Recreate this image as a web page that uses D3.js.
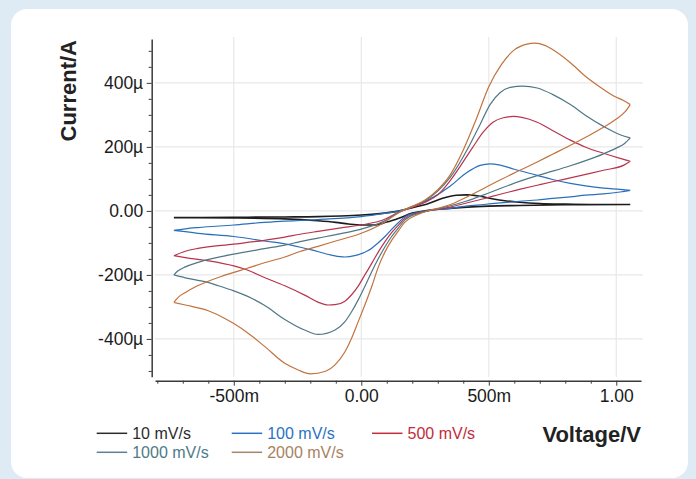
<!DOCTYPE html>
<html>
<head>
<meta charset="utf-8">
<script src="https://cdn.jsdelivr.net/npm/d3@7"></script>
<style>
  html, body { margin: 0; padding: 0; background: #deebf4; }
  svg { display: block; }
  text { font-family: "Liberation Sans", Arial, sans-serif; }
</style>
</head>
<body>
<svg id="chart" width="696" height="479"></svg>
<script>
// ---------------- DATA (voltage in V, current in µA) ----------------
const seriesNames = ["10 mV/s", "100 mV/s", "500 mV/s", "1000 mV/s", "2000 mV/s"];

// 10 mV/s
const v10Fwd = [-0.735, -0.5, -0.3, -0.17, -0.08, 0, 0.09, 0.15, 0.2, 0.256, 0.322, 0.374, 0.41, 0.466, 0.518, 0.57, 0.62, 0.7, 0.8, 0.9, 1.055];
const i10Fwd = [-21, -20, -19, -18, -16, -13, -7, 0, 10, 21, 40, 49, 50, 46, 37, 31, 27, 23, 21, 20, 20];
const v10Rev = [1.055, 0.8, 0.62, 0.5, 0.4, 0.3, 0.25, 0.2, 0.15, 0.1, 0.05, 0, -0.05, -0.1, -0.17, -0.3, -0.5, -0.735];
const i10Rev = [20, 19, 17, 15, 11, 5, 0, -7, -22, -35, -44, -44, -41, -36, -31, -25, -22, -21];

// 100 mV/s
const v100Fwd = [-0.735, -0.69, -0.64, -0.5, -0.38, -0.3, -0.24, -0.17, 0, 0.09, 0.15, 0.2, 0.283, 0.348, 0.413, 0.466, 0.505, 0.545, 0.6, 0.69, 0.75, 0.82, 0.88, 0.95, 1.015, 1.055];
const i100Fwd = [-61, -56, -52, -44, -36, -32, -30, -27, -18, -8, 0, 12, 43, 77, 119, 142, 147, 143, 130, 111, 98, 86, 78, 71, 67, 64];
const v100Rev = [1.055, 1.015, 0.95, 0.88, 0.82, 0.75, 0.69, 0.62, 0.545, 0.48, 0.41, 0.35, 0.28, 0.22, 0.171, 0.145, 0.119, 0.093, 0.06, 0.027, -0.026, -0.065, -0.117, -0.195, -0.3, -0.38, -0.5, -0.64, -0.69, -0.735];
const i100Rev = [64, 59, 53, 49, 44, 39, 34, 30, 25, 20, 15, 8, 3, -5, -18, -37, -58, -80, -104, -124, -140, -144, -138, -122, -103, -94, -80, -70, -65, -61];

// 500 mV/s
const v500Fwd = [-0.735, -0.69, -0.64, -0.5, -0.38, -0.3, -0.24, -0.17, -0.08, 0, 0.09, 0.15, 0.2, 0.25, 0.3, 0.35, 0.435, 0.478, 0.518, 0.557, 0.596, 0.63, 0.69, 0.75, 0.82, 0.88, 0.95, 1.015, 1.055];
const i500Fwd = [-140, -126, -117, -104, -92, -82, -73, -64, -53, -44, -27, -3, 11, 27, 50, 96, 196, 246, 278, 291, 295, 292, 277, 251, 221, 199, 180, 164, 155];
const v500Rev = [1.055, 1.03, 0.95, 0.88, 0.82, 0.75, 0.69, 0.62, 0.545, 0.48, 0.41, 0.35, 0.28, 0.22, 0.171, 0.145, 0.119, 0.093, 0.067, 0.041, 0.014, -0.012, -0.038, -0.064, -0.103, -0.13, -0.17, -0.22, -0.3, -0.38, -0.45, -0.5, -0.6, -0.69, -0.735];
const i500Rev = [155, 143, 127, 114, 103, 91, 80, 67, 52, 38, 24, 12, 3, -7, -23, -45, -68, -96, -128, -164, -200, -235, -262, -282, -293, -294, -285, -264, -234, -208, -184, -172, -156, -146, -140];

// 1000 mV/s
const v1000Fwd = [-0.735, -0.72, -0.69, -0.64, -0.59, -0.5, -0.38, -0.3, -0.24, -0.17, -0.08, 0, 0.09, 0.15, 0.2, 0.25, 0.3, 0.35, 0.42, 0.466, 0.505, 0.545, 0.585, 0.633, 0.69, 0.75, 0.82, 0.88, 0.95, 1.015, 1.055];
const i1000Fwd = [-200, -188, -175, -161, -150, -135, -118, -107, -96, -85, -71, -57, -32, -3, 14, 32, 62, 106, 198, 270, 332, 370, 386, 390, 384, 364, 332, 298, 264, 238, 228];
const v1000Rev = [1.055, 1.03, 1.0, 0.95, 0.88, 0.82, 0.75, 0.69, 0.62, 0.545, 0.48, 0.41, 0.35, 0.28, 0.22, 0.171, 0.145, 0.119, 0.093, 0.067, 0.041, 0.014, -0.012, -0.038, -0.064, -0.103, -0.17, -0.22, -0.3, -0.38, -0.43, -0.5, -0.56, -0.61, -0.69, -0.735];
const i1000Rev = [228, 209, 196, 178, 157, 141, 124, 110, 92, 70, 50, 30, 16, 3, -9, -28, -54, -80, -112, -149, -190, -236, -278, -315, -346, -372, -386, -373, -339, -295, -273, -250, -234, -222, -209, -200];

// 2000 mV/s
const v2000Fwd = [-0.735, -0.715, -0.69, -0.65, -0.61, -0.55, -0.5, -0.45, -0.38, -0.3, -0.24, -0.17, -0.1, 0, 0.09, 0.15, 0.2, 0.25, 0.3, 0.35, 0.4, 0.45, 0.5, 0.55, 0.6, 0.65, 0.68, 0.72, 0.75, 0.82, 0.88, 0.94, 0.99, 1.03, 1.055];
const i2000Fwd = [-286, -268, -255, -237, -223, -205, -192, -180, -162, -144, -127, -111, -94, -70, -36, -4, 14, 34, 66, 114, 190, 285, 388, 458, 503, 521, 524, 517, 504, 463, 420, 385, 359, 344, 332];
const v2000Rev = [1.055, 1.035, 1.0, 0.95, 0.88, 0.83, 0.75, 0.69, 0.62, 0.54, 0.48, 0.41, 0.35, 0.3, 0.27, 0.22, 0.171, 0.145, 0.119, 0.093, 0.067, 0.041, 0.014, -0.012, -0.038, -0.064, -0.103, -0.14, -0.2, -0.247, -0.3, -0.378, -0.444, -0.5, -0.535, -0.6, -0.69, -0.735];
const i2000Rev = [332, 310, 287, 261, 230, 209, 177, 153, 126, 95, 70, 42, 20, 8, 2, -12, -35, -63, -92, -128, -175, -236, -294, -346, -398, -440, -481, -501, -509, -497, -476, -424, -382, -352, -336, -312, -294, -286];

// Axis ticks
const xTickValues = [-0.5, 0, 0.5, 1.0];
const xTickLabels = ["-500m", "0.00", "500m", "1.00"];
const yTickValues = [-400, -200, 0, 200, 400];
const yTickLabels = ["-400µ", "-200µ", "0.00", "200µ", "400µ"];
const xMinorTicks = [-0.8, -0.7, -0.6, -0.4, -0.3, -0.2, -0.1, 0.1, 0.2, 0.3, 0.4, 0.6, 0.7, 0.8, 0.9];
const yMinorTicks = [-500, -450, -350, -300, -250, -150, -100, -50, 50, 100, 150, 250, 300, 350, 450, 500];

// ---------------- STYLE ----------------
const lineColors = ["#1c1c1c", "#2a6fba", "#b8344d", "#507785", "#c2733d"];
const legendTextColors = ["#2b2b2b", "#2a72c4", "#c42b3c", "#4d7a86", "#a8825f"];
const legendLineColors = ["#2b2b2b", "#2a72c4", "#c42b3c", "#5b8290", "#a88566"];
const lineWidths = [1.6, 1.2, 1.2, 1.2, 1.2];

const series = [
  {fwdV: v10Fwd, fwdI: i10Fwd, revV: v10Rev, revI: i10Rev},
  {fwdV: v100Fwd, fwdI: i100Fwd, revV: v100Rev, revI: i100Rev},
  {fwdV: v500Fwd, fwdI: i500Fwd, revV: v500Rev, revI: i500Rev},
  {fwdV: v1000Fwd, fwdI: i1000Fwd, revV: v1000Rev, revI: i1000Rev},
  {fwdV: v2000Fwd, fwdI: i2000Fwd, revV: v2000Rev, revI: i2000Rev}
];

// ---------------- DRAW ----------------
const svg = d3.select("#chart");

svg.append("rect").attr("x", 0).attr("y", 0).attr("width", 696).attr("height", 479).attr("fill", "#deebf4");
svg.append("rect").attr("x", 11).attr("y", 9).attr("width", 677).attr("height", 469).attr("rx", 16).attr("fill", "#ffffff");

const x = d3.scaleLinear().domain([-0.809, 1.097]).range([155, 641]);
const y = d3.scaleLinear().domain([-518, 537]).range([376.7, 39]);

// grid
const grid = svg.append("g");
grid.selectAll("line.vx").data(xTickValues).join("line")
  .attr("x1", d => x(d)).attr("x2", d => x(d)).attr("y1", 37).attr("y2", 377)
  .attr("stroke", "#e8e8e8").attr("stroke-width", 1.2);
grid.selectAll("line.hy").data(yTickValues).join("line")
  .attr("x1", 155).attr("x2", 643).attr("y1", d => y(d)).attr("y2", d => y(d))
  .attr("stroke", "#e8e8e8").attr("stroke-width", 1.2);

// series
const line = d3.line().x(d => x(d[0])).y(d => y(d[1])).curve(d3.curveMonotoneX);
const plot = svg.append("g");
series.forEach((s, k) => {
  const fwd = s.fwdV.map((v, j) => [v, s.fwdI[j]]);
  const rev = s.revV.map((v, j) => [v, s.revI[j]]);
  plot.append("path").attr("d", line(fwd) + line(rev))
    .attr("fill", "none").attr("stroke", lineColors[k]).attr("stroke-width", lineWidths[k])
    .attr("stroke-linejoin", "round");
});

// axes
const axisColor = "#3a3a3a";
const xAxis = svg.append("g").attr("transform", "translate(0,380.7)")
  .call(d3.axisBottom(x).tickValues(xTickValues).tickFormat((d, j) => xTickLabels[j]).tickSize(5).tickSizeOuter(0).tickPadding(3.5));
svg.append("g").attr("transform", "translate(0,380.7)")
  .call(d3.axisBottom(x).tickValues(xMinorTicks).tickFormat("").tickSize(3).tickSizeOuter(0))
  .call(g => g.select(".domain").remove())
  .selectAll("line").attr("stroke", axisColor);

const yAxis = svg.append("g").attr("transform", "translate(151.7,0)")
  .call(d3.axisLeft(y).tickValues(yTickValues).tickFormat((d, j) => yTickLabels[j]).tickSize(5).tickSizeOuter(0).tickPadding(3.5));
svg.append("g").attr("transform", "translate(151.7,0)")
  .call(d3.axisLeft(y).tickValues(yMinorTicks).tickFormat("").tickSize(3).tickSizeOuter(0))
  .call(g => g.select(".domain").remove())
  .selectAll("line").attr("stroke", axisColor);

[xAxis, yAxis].forEach(a => {
  a.select(".domain").attr("stroke", axisColor).attr("stroke-width", 1.5);
  a.selectAll(".tick line").attr("stroke", axisColor).attr("stroke-width", 1);
  a.selectAll("text").attr("font-size", 17.5).attr("fill", "#1a1a1a")
    .attr("font-family", "'Liberation Sans', Arial, sans-serif");
});

// axis titles
svg.append("text").attr("transform", "translate(76,40) rotate(-90)")
  .attr("text-anchor", "end").attr("font-size", 22).attr("font-weight", "bold").attr("fill", "#222")
  .text("Current/A");
svg.append("text").attr("x", 641).attr("y", 442.3)
  .attr("text-anchor", "end").attr("font-size", 22).attr("font-weight", "bold").attr("fill", "#222")
  .text("Voltage/V");

// legend
const legendPos = [[96.7, 433.3], [231.7, 433.3], [372, 433.3], [96.7, 452.3], [231.7, 452.3]];
const legend = svg.append("g");
seriesNames.forEach((name, k) => {
  const [lx, ly] = legendPos[k];
  legend.append("line").attr("x1", lx).attr("x2", lx + 30.5).attr("y1", ly).attr("y2", ly)
    .attr("stroke", legendLineColors[k]).attr("stroke-width", 1.5);
  legend.append("text").attr("x", lx + 35.5).attr("y", ly + 6)
    .attr("font-size", 16).attr("fill", legendTextColors[k]).text(name);
});
</script>
</body>
</html>
